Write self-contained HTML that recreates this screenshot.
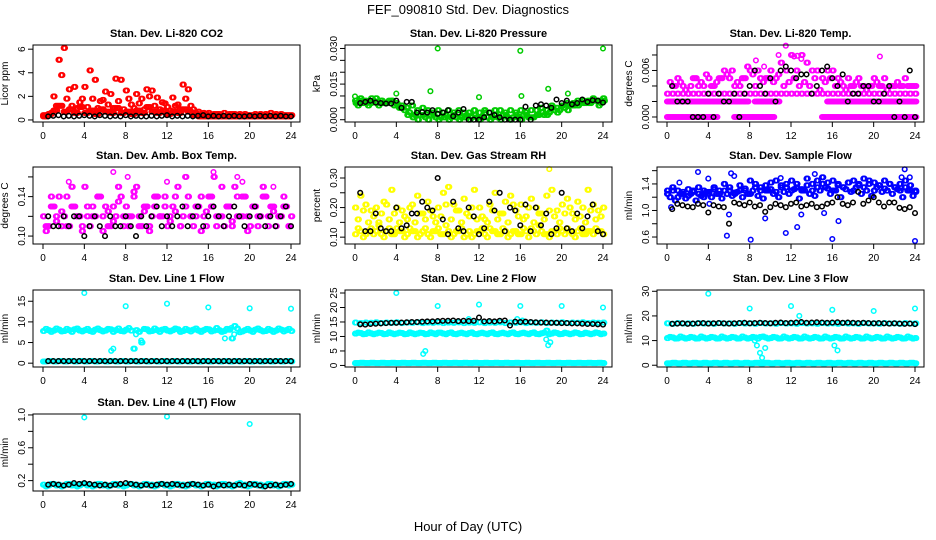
<!DOCTYPE html>
<html><head><meta charset="utf-8">
<style>
html,body{margin:0;padding:0;background:#fff;}
svg{display:block;font-family:"Liberation Sans",Arial,sans-serif;}
</style></head>
<body>
<svg id="chart" width="936" height="540" viewBox="0 0 936 540" xmlns="http://www.w3.org/2000/svg">
<rect width="936" height="540" fill="#fff"/>
<text x="468" y="14" font-size="13" text-anchor="middle">FEF_090810  Std. Dev. Diagnostics</text>
<text x="468" y="531" font-size="13" text-anchor="middle">Hour of Day (UTC)</text>
<g id="plots"></g>
</svg>
<script>
const xTicks = [0,4,8,12,16,20,24];

// ---- Panel 1: Li-820 CO2 ----
const co2RedHi = [0.4,0.5,2.0,5.1,6.1,2.6,2.8,1.5,2.8,4.2,3.4,1.6,2.4,2.2,3.5,3.4,2.5,1.3,2.2,1.8,2.6,2.5,1.9,1.5,1.1,1.9,1.3,3.0,2.6,0.9,0.7,0.6,0.6,0.5,0.5,0.6,0.5,0.5,0.5,0.5,0.4,0.5,0.5,0.5,0.6,0.5,0.5,0.4,0.4];
const co2RedMid = [0.4,0.6,1.2,3.8,1.8,1.2,1.0,1.8,1.1,1.8,1.0,1.7,1.3,1.0,1.6,0.9,1.8,1.0,1.4,0.9,2.0,1.2,0.9,1.4,0.8,1.2,0.9,1.8,1.2,0.6,0.5,0.5,0.4,0.5,0.4,0.4,0.5,0.4,0.4,0.4,0.4,0.4,0.4,0.4,0.4,0.4,0.4,0.4,0.4];
const co2RedLow = [0.3,0.5,0.8,1.2,0.7,0.9,0.6,1.1,0.6,0.8,0.5,0.9,0.7,0.6,1.0,0.6,0.7,0.5,0.8,0.6,1.1,0.7,0.6,0.8,0.5,0.7,0.6,0.9,0.7,0.4,0.3,0.3,0.3,0.3,0.3,0.3,0.3,0.3,0.3,0.3,0.3,0.3,0.3,0.3,0.3,0.3,0.3,0.3];
const co2Black = [0.3,0.35,0.4,0.3,0.35,0.3,0.35,0.4,0.35,0.3,0.4,0.35,0.3,0.35,0.3,0.4,0.3,0.35,0.3,0.3,0.35,0.3,0.35,0.4,0.3,0.35,0.3,0.35,0.3,0.35,0.4,0.3,0.35,0.3,0.35,0.3,0.35,0.3,0.3,0.35,0.3,0.35,0.3,0.35,0.3,0.35,0.3,0.3];

// ---- Panel 2: Pressure ----
const presGreenA = [0.008,0.009,0.008,0.007,0.009,0.008,0.007,0.008,0.007,0.006,0.005,0.006,0.004,0.005,0.004,0.003,0.004,0.003,0.004,0.003,0.004,0.003,0.003,0.004,0.003,0.004,0.003,0.004,0.004,0.003,0.004,0.003,0.004,0.003,0.004,0.004,0.005,0.004,0.006,0.005,0.006,0.007,0.006,0.008,0.007,0.008,0.009,0.008,0.009];
const presGreenB = [0.006,0.007,0.006,0.008,0.006,0.007,0.008,0.006,0.005,0.004,0.003,0.002,0.002,0.001,0.002,0.001,0.001,0.002,0.001,0.001,0.001,0.002,0.001,0.001,0.001,0.001,0.001,0.001,0.002,0.001,0.001,0.001,0.002,0.001,0.001,0.002,0.002,0.003,0.004,0.004,0.005,0.006,0.006,0.007,0.007,0.007,0.008,0.007,0.007];
const presGreenC = [0.007,0.008,0.007,0.009,0.007,0.008,0.007,0.008,0.006,0.005,0.002,0.001,0.0,0.002,0.0,0.002,0.0,0.001,0.0,0.002,0.0,0.001,0.0,0.002,0.0,0.003,0.0,0.002,0.0,0.002,0.0,0.002,0.0,0.002,0.001,0.002,0.003,0.002,0.005,0.003,0.006,0.004,0.007,0.006,0.008,0.007,0.008,0.006,0.008];
const presOutX = [8,16,24,7.3,18.7,12,16.1,4,0,20.6];
const presOutV = [0.030,0.029,0.030,0.012,0.013,0.0095,0.010,0.011,0.0098,0.011];
const presBlack = [0.007,0.0075,0.008,0.0072,0.007,0.0068,0.0068,0.008,0.005,0.0075,0.0075,0.003,0.0032,0.003,0.004,0.0025,0.003,0.004,0.0015,0.003,0.0045,0.0,0.0,0.0,0.001,0.003,0.002,0.001,0.0,0.0,0.0,0.0,0.0055,0.0,0.006,0.0065,0.006,0.005,0.0085,0.007,0.008,0.0065,0.007,0.0085,0.0075,0.0082,0.008,0.0072];

// ---- Panel 3: Li-820 Temp ----
const n = null;
const tempL0 = [0,0,0,0,0,0,0,0,0,0,n,n,n,0,0,0,0,0,0,0,0,n,n,n,n,n,n,n,n,n,0,0,0,0,0,0,0,0,0,0,0,0,0,0,0,0,0,0,0];
const tempL2 = [0.002,0.002,0.002,0.002,0.002,0.002,0.002,0.002,0.002,0.002,0.002,0.002,0.002,0.002,0.002,0.002,n,0.002,0.002,0.002,0.002,0.002,n,n,n,n,n,n,n,n,n,0.002,0.002,0.002,0.002,0.002,0.002,0.002,0.002,0.002,0.002,0.002,0.002,0.002,0.002,0.002,0.002,0.002,0.002];
const tempL3 = [0.003,0.003,0.003,0.003,0.003,0.003,0.003,0.003,0.003,0.003,0.003,0.003,0.003,0.003,0.003,0.003,0.003,0.003,0.003,0.003,0.003,0.003,0.003,0.003,0.003,0.003,0.003,0.003,0.003,0.003,0.003,0.003,0.003,0.003,0.003,0.003,0.003,0.003,0.003,0.003,0.003,0.003,0.003,0.003,0.003,0.003,0.003,0.003,0.003];
const tempUp = [n,0.004,0.005,0.004,0.003,0.005,0.004,0.004,0.005,0.004,0.005,0.006,0.005,0.004,0.004,0.005,0.006,0.004,0.005,0.005,0.006,0.005,0.007,0.006,0.008,0.006,0.008,0.007,0.006,0.006,0.005,0.006,0.006,0.005,0.004,0.005,0.004,0.005,0.004,0.004,0.005,0.004,0.005,0.004,0.004,0.004,0.005,0.004,0.004];
const tempUp2 = [0.0045,0.004,0.0045,0.0035,0.004,0.005,0.0045,0.0055,0.004,0.0045,0.005,0.0055,0.006,0.0045,0.005,0.0065,0.0055,0.006,0.0045,0.005,0.0045,0.0055,0.004,0.0045,0.005,0.004,0.0045,0.004,0.005,0.0035,0.0045,0.005,0.004,0.0045,0.0035,0.004,0.0045,0.004,0.0035,0.004,0.0045,0.004,0.0035,0.004,0.0045,0.004,0.004,0.004];
const tempOutX = [9.4,10.8,11.5,12.3,12.6,13,20.6,8.6];
const tempOutV = [0.0065,0.008,0.0092,0.0078,0.0079,0.0075,0.0078,0.0073];
const tempBlack = [0.004,0.002,0.002,0.002,0,0,0,0.003,0,0.003,0.002,0.002,0.003,0,0.003,0.004,0.006,0.004,0.003,0.005,0.002,0.006,0.0065,0.006,0.005,0.0055,0.0055,0.003,0.004,0.006,0.0065,0.005,0.004,0.0055,0.002,0.003,0.003,0.004,0.004,0.002,0.002,0.003,0.004,0,0.002,0,0.006,0];

// ---- Panel 4: Amb Box Temp ----
const ambA = [0.12,0.11,0.13,0.14,0.12,0.11,0.13,0.12,0.15,0.11,0.12,0.14,0.13,0.11,0.12,0.14,0.13,0.12,0.15,0.11,0.13,0.12,0.14,0.12,0.11,0.13,0.15,0.12,0.14,0.11,0.13,0.12,0.14,0.16,0.12,0.11,0.13,0.15,0.12,0.14,0.11,0.13,0.12,0.14,0.13,0.11,0.12,0.13,0.12];
const ambB = [0.11,0.13,0.12,0.11,0.14,0.13,0.12,0.11,0.12,0.13,0.14,0.12,0.11,0.13,0.15,0.12,0.11,0.14,0.12,0.13,0.11,0.14,0.12,0.13,0.12,0.14,0.11,0.13,0.12,0.12,0.14,0.11,0.13,0.12,0.15,0.13,0.11,0.12,0.14,0.12,0.13,0.11,0.14,0.12,0.13,0.12,0.14,0.11];
const ambC = [0.105,0.14,0.115,0.125,0.11,0.15,0.12,0.105,0.13,0.12,0.14,0.105,0.125,0.115,0.135,0.11,0.12,0.145,0.11,0.125,0.105,0.13,0.12,0.14,0.115,0.125,0.11,0.16,0.12,0.13,0.105,0.125,0.14,0.11,0.12,0.13,0.115,0.14,0.12,0.105,0.13,0.12,0.15,0.11,0.125,0.12,0.13,0.11];
const ambOutX = [6.8,8.2,16.5,18.8,19.3,22.3,2.5,12.0];
const ambOutV = [0.165,0.16,0.165,0.16,0.155,0.15,0.155,0.155];
const ambBlack = [0.12,0.11,0.11,0.12,0.11,0.12,0.12,0.1,0.11,0.12,0.11,0.1,0.12,0.11,0.11,0.12,0.11,0.1,0.12,0.11,0.12,0.13,0.11,0.12,0.11,0.12,0.13,0.11,0.12,0.13,0.11,0.12,0.13,0.12,0.11,0.12,0.13,0.12,0.11,0.12,0.13,0.12,0.11,0.12,0.11,0.12,0.13,0.11];

// ---- Panel 5: Gas Stream RH ----
const rhA = [0.11,0.12,0.11,0.13,0.12,0.11,0.12,0.11,0.13,0.12,0.11,0.12,0.10,0.12,0.11,0.12,0.13,0.11,0.12,0.11,0.12,0.10,0.12,0.11,0.12,0.11,0.13,0.12,0.11,0.12,0.11,0.12,0.11,0.12,0.13,0.11,0.12,0.11,0.12,0.11,0.12,0.13,0.11,0.12,0.11,0.12,0.11,0.12,0.11];
const rhB = [0.13,0.10,0.12,0.11,0.14,0.10,0.13,0.11,0.12,0.10,0.13,0.12,0.11,0.13,0.10,0.12,0.11,0.14,0.10,0.12,0.13,0.11,0.10,0.12,0.13,0.10,0.12,0.11,0.13,0.10,0.12,0.11,0.13,0.10,0.12,0.14,0.11,0.10,0.12,0.13,0.11,0.12,0.10,0.13,0.11,0.12,0.13,0.12];
const rhC = [0.2,0.24,0.21,0.19,0.2,0.18,0.21,0.26,0.2,0.19,0.16,0.21,0.24,0.18,0.22,0.17,0.2,0.25,0.27,0.21,0.19,0.23,0.17,0.26,0.2,0.16,0.21,0.25,0.18,0.22,0.24,0.19,0.21,0.17,0.23,0.2,0.18,0.24,0.26,0.19,0.21,0.23,0.18,0.22,0.2,0.26,0.21,0.19,0.2];
const rhD = [0.16,0.19,0.15,0.17,0.15,0.22,0.16,0.18,0.15,0.17,0.2,0.15,0.18,0.16,0.19,0.15,0.17,0.21,0.16,0.19,0.15,0.18,0.2,0.16,0.17,0.15,0.19,0.16,0.18,0.15,0.21,0.17,0.16,0.2,0.15,0.18,0.16,0.19,0.17,0.15,0.18,0.2,0.16,0.17,0.15,0.19,0.16,0.17];
const rhOutX = [18.8];
const rhOutV = [0.33];
const rhBlack = [0.25,0.12,0.12,0.18,0.13,0.12,0.12,0.2,0.13,0.14,0.18,0.18,0.22,0.2,0.19,0.3,0.16,0.11,0.22,0.13,0.12,0.2,0.17,0.11,0.13,0.22,0.19,0.25,0.12,0.2,0.19,0.14,0.21,0.12,0.2,0.14,0.18,0.11,0.13,0.25,0.13,0.12,0.18,0.13,0.17,0.21,0.12,0.11];

// ---- Panel 6: Sample Flow ----
const sfA = [1.25,1.3,1.2,1.28,1.22,1.3,1.25,1.2,1.28,1.32,1.25,1.3,1.35,1.27,1.3,1.33,1.25,1.35,1.3,1.38,1.32,1.28,1.35,1.4,1.3,1.35,1.32,1.38,1.3,1.35,1.4,1.33,1.3,1.38,1.35,1.42,1.3,1.38,1.35,1.4,1.3,1.38,1.33,1.4,1.35,1.3,1.35,1.3,1.28];
const sfB = [1.2,1.15,1.25,1.18,1.25,1.15,1.22,1.28,1.2,1.25,1.18,1.25,1.22,1.28,1.2,1.25,1.3,1.22,1.18,1.3,1.25,1.2,1.28,1.25,1.32,1.18,1.3,1.25,1.22,1.3,1.35,1.25,1.3,1.2,1.32,1.28,1.35,1.25,1.3,1.22,1.35,1.28,1.3,1.25,1.32,1.2,1.3,1.22];
const sfC = [1.3,1.35,1.3,1.25,1.32,1.28,1.35,1.3,1.25,1.35,1.3,1.4,1.3,1.25,1.38,1.3,1.45,1.4,1.35,1.3,1.42,1.45,1.38,1.35,1.45,1.4,1.3,1.48,1.4,1.45,1.5,1.42,1.45,1.4,1.35,1.42,1.45,1.4,1.48,1.45,1.42,1.38,1.45,1.4,1.35,1.4,1.45,1.38,1.3];
const sfOutX = [3,4,6.2,6.5,5.8,6,8.1,9.5,11,11.5,12.6,13,15.2,14.3,16.6,16,22.7,23,23.5,24,4.1,1.2,0.4];
const sfOutV = [1.58,1.48,1.56,1.52,0.62,0.94,0.56,0.88,1.49,0.66,0.75,0.94,0.96,1.55,0.84,0.57,1.5,1.62,1.5,0.54,1.1,1.42,1.05];
const sfBlack = [1.02,1.1,1.08,1.06,1.05,1.1,1.08,0.97,1.08,1.06,1.05,0.8,1.12,1.1,1.08,1.12,1.06,1.08,0.98,1.05,1.1,1.08,1.05,1.1,1.12,1.06,1.08,1.1,1.05,1.06,1.1,1.12,1.2,1.1,1.08,1.12,1.28,1.1,1.15,1.2,1.12,1.06,1.12,1.12,1.04,1.02,1.05,0.96];

// ---- Panel 7: Line 1 Flow ----
const l1A = [7.8,8.0,7.9,8.1,7.8,8.0,8.2,7.9,8.0,7.8,8.1,8.0,7.9,8.2,8.0,7.8,8.1,7.9,8.0,5.0,8.2,7.8,8.0,8.1,7.9,8.0,8.2,7.8,8.0,8.1,7.9,8.0,8.2,7.9,8.0,7.8,8.1,9.0,7.5,8.0,7.9,8.1,8.0,7.8,8.0,7.9,8.1,8.0,7.8];
const l1B = [8.3,7.6,8.4,7.7,8.3,7.6,8.4,7.7,8.3,7.6,8.4,7.7,8.3,7.6,8.4,7.7,8.5,3.5,7.6,8.3,7.7,8.4,7.6,8.3,7.7,8.4,7.6,8.3,7.7,8.4,7.6,8.3,7.7,8.5,7.6,8.3,6.0,8.4,7.7,8.3,7.6,8.4,7.7,8.3,7.6,8.4,7.7,8.3];
const l1Low = [0.4,0.5,0.4,0.5,0.4,0.5,0.4,0.5,0.4,0.5,0.4,0.5,0.4,0.5,0.4,0.5,0.4,0.5,0.4,0.5,0.4,0.5,0.4,0.5,0.4,0.5,0.4,0.5,0.4,0.5,0.4,0.5,0.4,0.5,0.4,0.5,0.4,0.5,0.4,0.5,0.4,0.5,0.4,0.5,0.4,0.5,0.4,0.5,0.4];
const l1OutX = [4,8,12,16,20,24,6.6,6.8,9,9.5,17.6,18.2,18.5];
const l1OutV = [17,13.8,14.4,13.5,13.3,13.2,3,3.5,7,5.5,6,8.5,7];
const l1Black = [0.5,0.5,0.5,0.5,0.5,0.5,0.5,0.5,0.5,0.5,0.5,0.5,0.5,0.5,0.5,0.5,0.5,0.5,0.5,0.5,0.5,0.5,0.5,0.5,0.5,0.5,0.5,0.5,0.5,0.5,0.5,0.5,0.5,0.5,0.5,0.5,0.5,0.5,0.5,0.5,0.5,0.5,0.5,0.5,0.5,0.5,0.5,0.5];

// ---- Panel 8: Line 2 Flow ----
const l2A = [11.0,11.2,10.9,11.1,11.0,11.2,10.9,11.1,11.0,11.2,10.9,11.1,11.0,11.2,10.9,11.1,11.3,11.0,11.2,10.9,11.1,11.0,11.2,10.9,11.1,11.0,11.2,10.9,11.1,11.0,11.2,10.9,11.1,11.0,11.2,10.9,11.1,12.0,11.0,11.2,10.9,11.1,11.0,11.2,10.9,11.1,11.0,11.2,11.0];
const l2B = [11.3,10.8,11.4,10.8,11.3,10.8,11.4,10.8,11.3,10.8,11.4,10.8,11.3,10.8,11.4,10.8,11.3,10.8,11.4,10.8,11.3,10.8,11.4,10.8,11.3,10.8,11.4,10.8,11.3,10.8,11.4,10.8,11.3,10.8,11.4,10.8,11.3,10.8,11.4,10.8,11.3,10.8,11.4,10.8,11.3,10.8,11.4,10.8];
const l2Mid = [14.8,14.6,14.8,14.7,14.9,14.6,14.8,14.7,14.9,14.6,14.8,14.7,14.9,14.6,14.8,14.7,14.9,14.6,14.8,14.7,14.9,14.6,14.8,14.7,14.9,14.6,14.8,14.7,14.9,14.6,14.8,14.7,14.9,14.6,14.8,14.7,14.9,14.6,14.8,14.7,14.9,14.6,14.8,14.7,14.9,14.6,14.8,14.7,14.8];
const l2Low = [0.8,0.9,0.8,0.9,0.8,0.9,0.8,0.9,0.8,0.9,0.8,0.9,0.8,0.9,0.8,0.9,0.8,0.9,0.8,0.9,0.8,0.9,0.8,0.9,0.8,0.9,0.8,0.9,0.8,0.9,0.8,0.9,0.8,0.9,0.8,0.9,0.8,0.9,0.8,0.9,0.8,0.9,0.8,0.9,0.8,0.9,0.8,0.9,0.8];
const l2OutX = [4,8,12,16,20,24,6.6,6.8,18.5,18.7,18.9,15.7,16.2,11];
const l2OutV = [25,20.5,21,20.5,20.5,20,4,5,9,7,8,16,15.5,16];
const l2Black = [14.2,14.1,14.3,14.4,14.5,14.6,14.7,14.7,14.8,14.9,15.0,15.0,15.1,15.2,15.2,15.3,15.4,15.4,15.5,15.3,15.4,15.3,15.4,16.5,15.2,15.3,15.2,15.4,15.5,13.8,15.1,15.0,15.1,15.0,14.9,14.8,14.8,14.7,14.7,14.6,14.6,14.5,14.5,14.4,14.3,14.3,14.2,14.1];

// ---- Panel 9: Line 3 Flow ----
const l3A = [11.0,11.3,10.9,11.2,11.0,11.3,10.9,11.2,11.0,11.3,10.9,11.2,11.0,11.3,10.9,11.2,11.0,11.3,11.5,11.2,11.0,11.3,10.9,11.2,11.0,11.3,10.9,11.2,11.0,11.3,10.9,11.2,11.0,11.3,10.9,11.2,11.0,11.3,10.9,11.2,11.0,11.3,10.9,11.2,11.0,11.3,10.9,11.2,11.0];
const l3B = [11.5,10.8,11.6,10.8,11.5,10.8,11.6,10.8,11.5,10.8,11.6,10.8,11.5,10.8,11.6,10.8,11.5,10.8,11.6,10.8,11.5,10.8,11.6,10.8,11.5,10.8,11.6,10.8,11.5,10.8,11.6,10.8,11.5,10.8,11.6,10.8,11.5,10.8,11.6,10.8,11.5,10.8,11.6,10.8,11.5,10.8,11.6,10.8];
const l3Mid = [17.0,16.8,17.1,16.9,17.0,16.8,17.1,16.9,17.0,16.8,17.1,16.9,17.0,16.8,17.1,16.9,17.0,16.8,17.1,16.9,17.0,16.8,17.1,16.9,17.0,16.8,17.1,16.9,17.0,16.8,17.1,16.9,17.0,16.8,17.1,16.9,17.0,16.8,17.1,16.9,17.0,16.8,17.1,16.9,17.0,16.8,17.1,16.9,17.0];
const l3Low = [0.8,1.0,0.8,1.0,0.8,1.0,0.8,1.0,0.8,1.0,0.8,1.0,0.8,1.0,0.8,1.0,0.8,1.0,0.8,1.0,0.8,1.0,0.8,1.0,0.8,1.0,0.8,1.0,0.8,1.0,0.8,1.0,0.8,1.0,0.8,1.0,0.8,1.0,0.8,1.0,0.8,1.0,0.8,1.0,0.8,1.0,0.8,1.0,0.8];
const l3OutX = [4,8,12,16,20,24,8.7,9,9.2,9.5,8.5,16.2,16.5,12.8];
const l3OutV = [29,23,24,22.5,22,23,8,5,3,7,10,8,6,20];
const l3Black = [16.8,16.9,17.0,16.8,16.9,17.0,17.1,16.9,17.0,17.1,17.0,16.9,17.0,17.1,17.2,17.0,17.1,17.2,17.1,17.0,17.2,17.3,17.1,17.2,17.3,17.5,17.2,17.3,17.4,17.3,17.2,17.3,17.4,17.2,17.3,17.2,17.1,17.2,17.1,17.0,17.1,17.0,16.9,17.0,16.9,16.8,16.9,16.7];

// ---- Panel 10: Line 4 (LT) Flow ----
const l4A = [0.15,0.14,0.16,0.15,0.14,0.16,0.15,0.14,0.16,0.15,0.14,0.16,0.15,0.14,0.16,0.15,0.14,0.16,0.15,0.14,0.16,0.15,0.14,0.16,0.15,0.14,0.16,0.15,0.14,0.16,0.15,0.14,0.16,0.15,0.14,0.16,0.15,0.14,0.17,0.15,0.14,0.16,0.15,0.14,0.16,0.15,0.14,0.16,0.15];
const l4B = [0.13,0.16,0.14,0.13,0.16,0.14,0.13,0.16,0.14,0.13,0.16,0.14,0.13,0.16,0.14,0.13,0.16,0.14,0.13,0.16,0.14,0.13,0.16,0.14,0.13,0.16,0.14,0.13,0.16,0.14,0.13,0.16,0.14,0.13,0.16,0.14,0.13,0.16,0.14,0.13,0.16,0.14,0.13,0.16,0.14,0.13,0.16,0.14];
const l4OutX = [4,12,20];
const l4OutV = [0.97,0.98,0.89];
const l4Black = [0.15,0.16,0.15,0.14,0.15,0.17,0.16,0.17,0.16,0.15,0.14,0.15,0.14,0.15,0.16,0.17,0.16,0.15,0.14,0.15,0.14,0.15,0.16,0.15,0.16,0.15,0.14,0.15,0.16,0.15,0.14,0.15,0.13,0.15,0.14,0.15,0.14,0.15,0.14,0.16,0.15,0.14,0.13,0.14,0.15,0.14,0.15,0.16];

const RED='#ff0000', GRN='#00cc00', MAG='#ff00ff', YEL='#ffff00', BLU='#0000ff', CYN='#00ffff', BLK='#000000';
function S(col,x0,v){return {col:col,x0:x0,v:v};}
function E(col,xs,v){return {col:col,xs:xs,v:v};}
// dense: each coloured array drawn at two interleaved time offsets
function D(col,x0,v){return [S(col,x0,v),S(col,x0+0.125,v)];}

const panels = [
 {name:'co2',title:'Stan. Dev. Li-820 CO2',ylab:'Licor ppm',lo:0.08,hi:6.1,ticks:[0,2,4,6],labs:['0','2','4','6'],
  series:[...D(RED,0,co2RedHi),...D(RED,0.25,co2RedMid),...D(RED,0,co2RedLow),...D(RED,0.25,co2RedLow),S(BLK,0.5,co2Black)]},
 {name:'pressure',title:'Stan. Dev. Li-820 Pressure',ylab:'kPa',lo:0.0003,hi:0.0302,ticks:[0,0.005,0.01,0.015,0.02,0.025,0.03],labs:['0.000','','','0.015','','','0.030'],
  series:[...D(GRN,0,presGreenA),...D(GRN,0.25,presGreenB),...D(GRN,0.0625,presGreenC),E(GRN,presOutX,presOutV),S(BLK,0.5,presBlack)]},
 {name:'licor-temp',title:'Stan. Dev. Li-820 Temp.',ylab:'degrees C',lo:-0.00026,hi:0.0089,ticks:[0,0.002,0.004,0.006,0.008],labs:['0.000','','','0.006',''],
  series:[...D(MAG,0,tempL0),...D(MAG,0.25,tempL0),...D(MAG,0,tempL2),...D(MAG,0.25,tempL2),...D(MAG,0,tempL3),...D(MAG,0,tempUp),...D(MAG,0.25,tempUp2),E(MAG,tempOutX,tempOutV),S(BLK,0.5,tempBlack)]},
 {name:'amb-box-temp',title:'Stan. Dev. Amb. Box Temp.',ylab:'degrees C',lo:0.095,hi:0.167,ticks:[0.10,0.12,0.14,0.16],labs:['0.10','','0.14',''],
  series:[...D(MAG,0,ambA),...D(MAG,0.25,ambB),...D(MAG,0.25,ambC),E(MAG,ambOutX,ambOutV),S(BLK,0.5,ambBlack)]},
 {name:'gas-rh',title:'Stan. Dev. Gas Stream RH',ylab:'percent',lo:0.087,hi:0.327,ticks:[0.10,0.15,0.20,0.25,0.30],labs:['0.10','','0.20','','0.30'],
  series:[...D(YEL,0,rhA),...D(YEL,0.25,rhB),...D(YEL,0,rhC),...D(YEL,0.25,rhD),E(YEL,rhOutX,rhOutV),S(BLK,0.5,rhBlack)]},
 {name:'sample-flow',title:'Stan. Dev. Sample Flow',ylab:'ml/min',lo:0.54,hi:1.61,ticks:[0.6,0.8,1.0,1.2,1.4,1.6],labs:['0.6','','1.0','','1.4',''],
  series:[...D(BLU,0,sfA),...D(BLU,0.25,sfB),...D(BLU,0,sfC),E(BLU,sfOutX,sfOutV),S(BLK,0.5,sfBlack)]},
 {name:'line1-flow',title:'Stan. Dev. Line 1 Flow',ylab:'ml/min',lo:-0.2,hi:17,ticks:[0,5,10,15],labs:['0','5','10','15'],
  series:[...D(CYN,0,l1A),...D(CYN,0.25,l1B),...D(CYN,0,l1Low),...D(CYN,0.25,l1Low),E(CYN,l1OutX,l1OutV),S(BLK,0.5,l1Black)]},
 {name:'line2-flow',title:'Stan. Dev. Line 2 Flow',ylab:'ml/min',lo:0.5,hi:25,ticks:[0,5,10,15,20,25],labs:['0','5','10','15','20','25'],
  series:[...D(CYN,0,l2A),...D(CYN,0.25,l2B),...D(CYN,0,l2Mid),...D(CYN,0,l2Low),...D(CYN,0.25,l2Low),E(CYN,l2OutX,l2OutV),S(BLK,0.5,l2Black)]},
 {name:'line3-flow',title:'Stan. Dev. Line 3 Flow',ylab:'ml/min',lo:0.5,hi:29.3,ticks:[0,10,20,30],labs:['0','10','20','30'],
  series:[...D(CYN,0,l3A),...D(CYN,0.25,l3B),...D(CYN,0,l3Mid),...D(CYN,0,l3Low),...D(CYN,0.25,l3Low),E(CYN,l3OutX,l3OutV),S(BLK,0.5,l3Black)]},
 {name:'line4-flow',title:'Stan. Dev. Line 4 (LT) Flow',ylab:'ml/min',lo:0.11,hi:0.975,ticks:[0.2,0.4,0.6,0.8,1.0],labs:['0.2','','0.6','','1.0'],
  series:[...D(CYN,0,l4A),...D(CYN,0.25,l4B),E(CYN,l4OutX,l4OutV),S(BLK,0.5,l4Black)]}
];

const NS='http://www.w3.org/2000/svg';
const root=document.getElementById('plots');
const rowTops=[45,167,290,414];
const H=77, W=267;
function mk(tag,attrs,parent){const e=document.createElementNS(NS,tag);for(const k in attrs)e.setAttribute(k,attrs[k]);parent.appendChild(e);return e;}

panels.forEach((p,i)=>{
  const col=i%3,row=Math.floor(i/3);
  const L=33+312*col, T=rowTops[row], R=L+W, B=T+H;
  const xs=h=>L+10+(h/24)*(W-19);
  const ys=v=>(B-3)-(v-p.lo)/(p.hi-p.lo)*(H-6);
  const g=mk('g',{},root);
  
  
  const t=mk('text',{x:(L+R)/2,y:T-8,'font-size':11,'font-weight':'bold','text-anchor':'middle'},g);
  t.textContent=p.title;
  
  
  const yl=mk('text',{x:0,y:0,'font-size':10,'text-anchor':'middle',transform:`translate(${L-25},${(T+B)/2}) rotate(-90)`},g);
  yl.textContent=p.ylab;
  
  
  const pg=mk('g',{fill:'none','stroke-width':1.5},g);
  
  
  p.series.forEach(s=>{
    s.v.forEach((v,j)=>{
      if(v===null)return;
      const h=s.xs?s.xs[j]:s.x0+j*0.5;
      if(h===undefined||h>24.2)return;
      const c=mk('circle',{cx:xs(h).toFixed(1),cy:ys(v).toFixed(1),r:2.3,stroke:s.col},pg);
      
      
    });
  });
  const bx=mk('rect',{x:L,y:T,width:W,height:H,fill:'none',stroke:'#000','stroke-width':1},g);
  
  
  const xa=mk('g',{stroke:'#000','stroke-width':1},g);
  
  
  mk('line',{x1:xs(0),x2:xs(24),y1:B,y2:B},xa);
  xTicks.forEach(h=>{
    mk('line',{x1:xs(h),x2:xs(h),y1:B,y2:B+5},xa);
    const tl=mk('text',{x:xs(h),y:B+17,'font-size':10,'text-anchor':'middle',stroke:'none'},xa);
    tl.textContent=String(h);
    
    
  });
  const ya=mk('g',{stroke:'#000','stroke-width':1},g);
  
  
  const tk=p.ticks;
  mk('line',{x1:L,x2:L,y1:ys(tk[0]),y2:ys(tk[tk.length-1])},ya);
  tk.forEach((v,k)=>{
    const y=ys(v);
    mk('line',{x1:L-5,x2:L,y1:y,y2:y},ya);
    if(p.labs[k]){
      const tl=mk('text',{x:0,y:0,'font-size':10,'text-anchor':'middle',stroke:'none',transform:`translate(${L-8},${y}) rotate(-90)`},ya);
      tl.textContent=p.labs[k];
      
      
    }
  });
});
</script>
</body></html>
